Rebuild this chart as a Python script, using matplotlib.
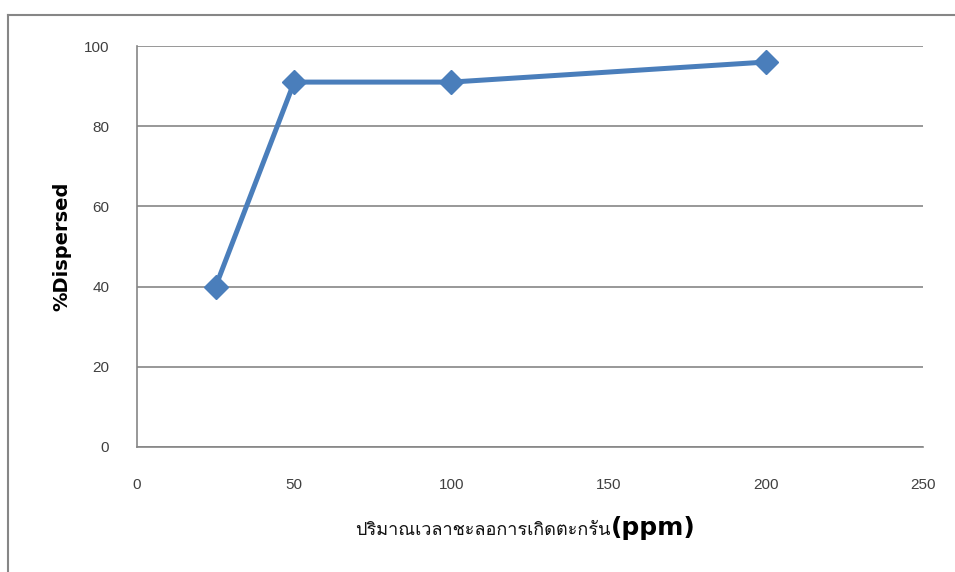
import matplotlib
matplotlib.use("Agg")
import matplotlib.pyplot as plt
from matplotlib import font_manager
from matplotlib.ft2font import FT2Font
from matplotlib.lines import Line2D

# dosage (ppm) vs percent dispersed
dose = [25, 50, 100, 200]
dispersed = [40, 91, 91, 96]

x_ticks = [0, 50, 100, 150, 200, 250]
y_ticks = [0, 20, 40, 60, 80, 100]

x_title = "ปริมาณเวลาชะลอการเกิดตะกรัน"
x_unit = "(ppm)"
y_title = "%Dispersed"

line_color = "#4a7ebb"
grid_color = "#868686"

W, H = 955, 572


def thai_family():
    # pick any installed font that can draw Thai script
    for f in font_manager.fontManager.ttflist:
        try:
            if FT2Font(f.fname).get_char_index(ord("ป")):
                return f.name
        except Exception:
            pass
    return None


families = ['Liberation Sans']
th = thai_family()
if th:
    families.append(th)
families.append('DejaVu Sans')
plt.rcParams['font.family'] = families

fig = plt.figure(figsize=(W / 100, H / 100), dpi=100)
ax = fig.add_axes([137 / W, 1 - 447 / H, 786 / W, 401 / H])

ax.plot(dose, dispersed, color=line_color, lw=3.6, marker="D", ms=12,
        solid_joinstyle="miter", zorder=3)

ax.set_xlim(0, 250)
ax.set_ylim(0, 100)
ax.set_xticks(x_ticks)
ax.set_yticks(y_ticks)
ax.tick_params(length=0, labelsize=11, colors="#404040")
ax.tick_params(axis="y", pad=20)
ax.tick_params(axis="x", pad=22)

ax.grid(axis="y", color=grid_color, lw=1.2)
ax.set_axisbelow(True)
for s in ["top", "right"]:
    ax.spines[s].set_visible(False)
for s in ["left", "bottom"]:
    ax.spines[s].set_color(grid_color)
    ax.spines[s].set_linewidth(1.2)

ax.set_ylabel(y_title, fontsize=14, fontweight="bold", labelpad=9,
              family=['DejaVu Sans'])

# x title: Thai part regular, unit in bold
base_y = 1 - 535 / H
split_x = 611 / W
fig.text(split_x, base_y, x_title, fontsize=13, ha="right", va="baseline",
         color="#111111")
fig.text(split_x, base_y, x_unit, fontsize=18, fontweight="bold", ha="left",
         va="baseline", family=['DejaVu Sans'])

# outer chart frame
fig.add_artist(Line2D([8 / W, 8 / W], [0, 1 - 15 / H], color=grid_color, lw=1.5,
                      transform=fig.transFigure))
fig.add_artist(Line2D([8 / W, 1], [1 - 15 / H, 1 - 15 / H], color=grid_color, lw=1.5,
                      transform=fig.transFigure))

fig.savefig("out.png", dpi=100)
